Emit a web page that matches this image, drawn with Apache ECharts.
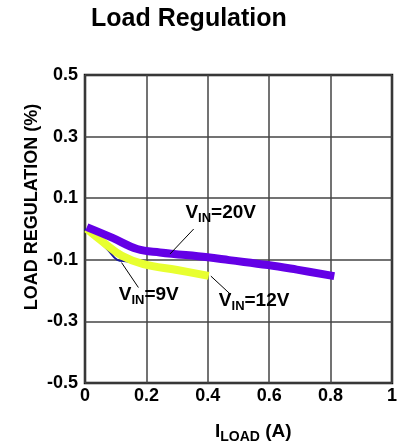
<!DOCTYPE html>
<html>
<head>
<meta charset="utf-8">
<script src="https://cdn.jsdelivr.net/npm/echarts@6/dist/echarts.min.js"></script>
<style>
  html, body { margin: 0; padding: 0; background: #fff; }
  #chart { width: 409px; height: 445px; }
</style>
</head>
<body>
<div id="chart"></div>
<script>
// values (I_LOAD in A, regulation in %)
const vin20 = [[0.006, 0.006], [0.09, -0.029], [0.17, -0.065], [0.244, -0.076], [0.4, -0.092],
  [0.47, -0.101], [0.596, -0.117], [0.69, -0.132], [0.812, -0.153]];
const vin12 = [[0.006, 0.0], [0.061, -0.044], [0.12, -0.087], [0.19, -0.114], [0.3, -0.133], [0.403, -0.152]];
const vin9 = [[0.0, 0.0], [0.04, -0.035], [0.075, -0.068], [0.105, -0.1], [0.14, -0.106], [0.205, -0.122]];

// curve labels: text anchor and leader line ends, in data units
const labelText = ['20V', '9V', '12V'];
const labelAt = [[0.327, 0.052], [0.11, -0.215], [0.436, -0.234]];
const leaderFrom = [[0.354, 0.0], [0.174, -0.19], [0.41, -0.153]];
const leaderTo = [[0.277, -0.081], [0.119, -0.109], [0.475, -0.213]];

const FONT = '"Liberation Sans", Arial, sans-serif';

const chart = echarts.init(document.getElementById('chart'));

const option = {
  animation: false,
  backgroundColor: '#fff',
  title: {
    text: 'Load Regulation',
    left: 86,
    top: 2,
    textStyle: { fontFamily: FONT, fontSize: 25, fontWeight: 'bold', color: '#000' }
  },
  grid: {
    left: 85, top: 75, width: 307, height: 308,
    show: true, borderColor: '#111', borderWidth: 2.5, backgroundColor: 'transparent'
  },
  xAxis: {
    type: 'value', min: 0, max: 1, interval: 0.2,
    axisLine: { show: false },
    axisTick: { show: false },
    splitLine: { lineStyle: { color: '#444', width: 1.5 } },
    axisLabel: {
      margin: 4, color: '#000', fontFamily: FONT, fontSize: 18, fontWeight: 'bold',
      formatter: v => String(Math.round(v * 10) / 10)
    }
  },
  yAxis: {
    type: 'value', min: -0.5, max: 0.5, interval: 0.2,
    axisLine: { show: false },
    axisTick: { show: false },
    splitLine: { lineStyle: { color: '#444', width: 1.5 } },
    axisLabel: {
      margin: 7, color: '#000', fontFamily: FONT, fontSize: 18, fontWeight: 'bold',
      formatter: v => v.toFixed(1)
    }
  },
  series: [
    { name: 'VIN=9V', type: 'line', data: vin9, smooth: 0.4, showSymbol: false, z: 2,
      lineStyle: { color: '#18189a', width: 2 } },
    { name: 'VIN=12V', type: 'line', data: vin12, smooth: 0.4, showSymbol: false, z: 3,
      lineStyle: { color: '#e8ff30', width: 8 } },
    { name: 'VIN=20V', type: 'line', data: vin20, smooth: 0.4, showSymbol: false, z: 4,
      lineStyle: { color: '#6400e6', width: 8 } }
  ]
};
chart.setOption(option);

// subscript: both tokens hang from the line top, the small one pushed down by padding
function subRich(size, subSize, drop) {
  return {
    v: { fontFamily: FONT, fontSize: size, fontWeight: 'bold', color: '#000', verticalAlign: 'top' },
    s: { fontFamily: FONT, fontSize: subSize, fontWeight: 'bold', color: '#000', verticalAlign: 'top',
      padding: [drop, 0, 0, 0] }
  };
}

const graphics = [];
labelText.forEach((t, i) => {
  const p = chart.convertToPixel({ gridIndex: 0 }, labelAt[i]);
  const a = chart.convertToPixel({ gridIndex: 0 }, leaderFrom[i]);
  const b = chart.convertToPixel({ gridIndex: 0 }, leaderTo[i]);
  graphics.push({
    type: 'line', z: 10,
    shape: { x1: a[0], y1: a[1], x2: b[0], y2: b[1] },
    style: { stroke: '#000', lineWidth: 1 }
  });
  graphics.push({
    type: 'text', z: 10, x: p[0], y: p[1] - 10,
    style: { text: '{v|V}{s|IN}{v|=' + t + '}', rich: subRich(19, 13, 9), align: 'left', verticalAlign: 'top' }
  });
});
// axis names
graphics.push({
  type: 'text', x: 215, y: 422,
  style: { text: '{v|I}{s|LOAD}{v| (A)}', rich: subRich(19, 14, 8), align: 'left', verticalAlign: 'top' }
});
graphics.push({
  type: 'text', x: 32, y: 207, rotation: Math.PI / 2,
  style: {
    text: 'LOAD REGULATION (%)', align: 'center', verticalAlign: 'middle',
    fontFamily: FONT, fontSize: 18, fontWeight: 'bold', fill: '#000'
  }
});
chart.setOption({ graphic: graphics });
</script>
</body>
</html>
